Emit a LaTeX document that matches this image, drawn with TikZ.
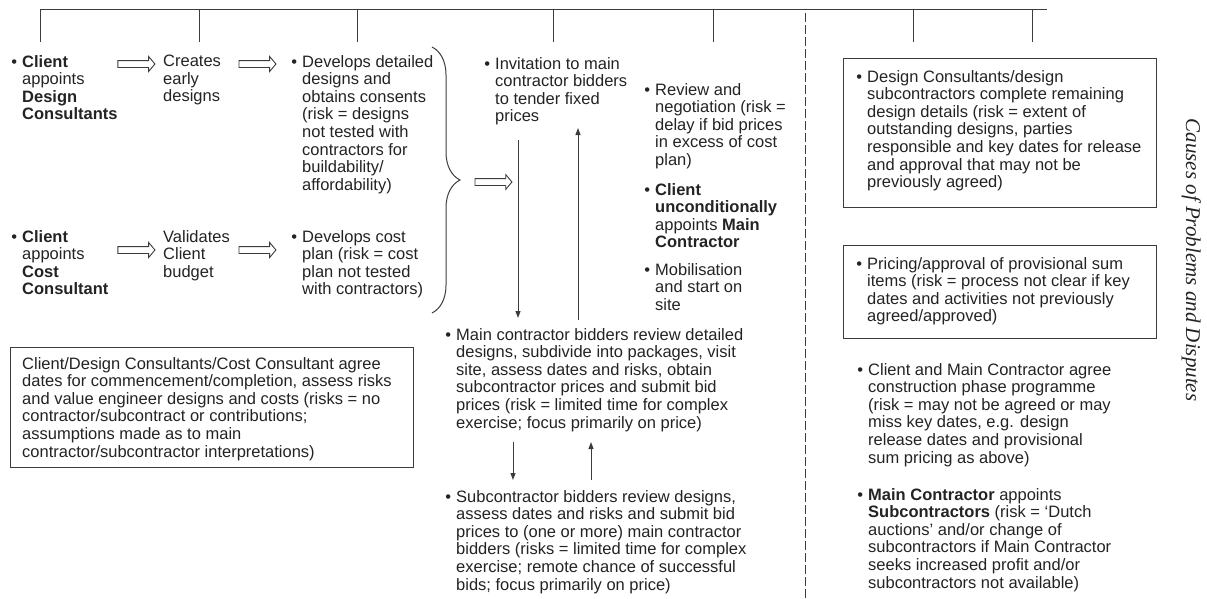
\documentclass[tikz,border=0pt]{standalone}
\usepackage{fontspec}
\setmainfont{Liberation Sans}
\newfontfamily\captionserif{Liberation Serif}
\usetikzlibrary{arrows.meta,shapes.arrows,decorations.pathreplacing,calc}
\definecolor{ink}{RGB}{35,35,35}
\definecolor{linec}{RGB}{60,60,60}
\newcommand\bul{\llap{\textbullet\hspace{5pt}}}
\begin{document}
\begin{tikzpicture}[x=1pt,y=-1pt,
  txt/.style={anchor=north west, inner sep=0pt, align=left, text=ink,
    font=\fontsize{16.5}{17.6}\selectfont},
  ln/.style={draw=linec, line width=1pt},
  dashln/.style={draw=linec, line width=1pt, dash pattern=on 9pt off 3pt},
  arr/.style={draw=linec, line width=1pt, -{Triangle[length=7pt,width=5pt]}},
  hollow/.style={shape=single arrow, draw=linec, line width=0.9pt, fill=white,
    inner sep=0pt, inner ysep=3pt, minimum height=37pt, minimum width=14pt,
    single arrow head extend=4pt, single arrow tip angle=100},
  boxln/.style={draw=linec, line width=1pt}]
\useasboundingbox (0,0) rectangle (1207,598);

% top bracket
\coordinate (tl) at (40,9);
\coordinate (tr) at (1047,9);
\draw[ln] (tl) -- (tr);
\foreach \x [count=\i] in {40,199,357,553,713,913,1032}{
  \coordinate (tk\i a) at (\x,9);
  \coordinate (tk\i b) at (\x,42);
  \draw[ln] (tk\i a) -- (tk\i b);
}
% dashed divider
\coordinate (dv1) at (805,13);
\coordinate (dv2) at (805,598);
\draw[dashln] (dv1) -- (dv2);

% row 1
\node[txt] (A1) at (22,55) {\bul\textbf{Client}\\appoints\\\textbf{Design}\\\textbf{Consultants}};
\node[txt] (A2) at (163,55) {Creates\\early\\designs};
\node[txt] (A3) at (302,55) {\bul Develops detailed\\designs and\\obtains consents\\(risk = designs\\not tested with\\contractors for\\buildability/\\affordability)};
\node[hollow] (h1) at (135,64) {};
\node[hollow] (h2) at (256,64) {};

% row 2
\node[txt] (A4) at (22,230) {\bul\textbf{Client}\\appoints\\\textbf{Cost}\\\textbf{Consultant}};
\node[txt] (A5) at (163,230) {Validates\\Client\\budget};
\node[txt] (A6) at (302,230) {\bul Develops cost\\plan (risk = cost\\plan not tested\\with contractors)};
\node[hollow] (h3) at (135,250) {};
\node[hollow] (h4) at (256,250) {};

% brace
\coordinate (br1) at (432,47);
\coordinate (br2) at (432,313);
\draw[ln, decorate, decoration={brace, amplitude=28pt}] (br1) -- (br2);
\node[hollow] (h5) at (492,182) {};

% left box
\draw[boxln] (10,347) rectangle (413,467);
\node[txt] (L) at (22,357) {Client/Design Consultants/Cost Consultant agree\\dates for commencement/completion, assess risks\\and value engineer designs and costs (risks = no\\contractor/subcontract or contributions;\\assumptions made as to main\\contractor/subcontractor interpretations)};

% middle
\node[txt] (B1) at (495,57) {\bul Invitation to main\\contractor bidders\\to tender fixed\\prices};
\node[txt] (B2) at (655,83) {\bul Review and\\negotiation (risk =\\delay if bid prices\\in excess of cost\\plan)};
\node[txt] (B3) at (655,183) {\bul\textbf{Client}\\\textbf{unconditionally}\\appoints \textbf{Main}\\\textbf{Contractor}};
\node[txt] (B4) at (655,263) {\bul Mobilisation\\and start on\\site};
\node[txt] (B5) at (456,328) {\bul Main contractor bidders review detailed\\designs, subdivide into packages, visit\\site, assess dates and risks, obtain\\subcontractor prices and submit bid\\prices (risk = limited time for complex\\exercise; focus primarily on price)};
\node[txt] (B6) at (456,490) {\bul Subcontractor bidders review designs,\\assess dates and risks and submit bid\\prices to (one or more) main contractor\\bidders (risks = limited time for complex\\exercise; remote chance of successful\\bids; focus primarily on price)};

\coordinate (v1a) at (518,140); \coordinate (v1b) at (518,318);
\coordinate (v2a) at (578,320); \coordinate (v2b) at (578,128);
\coordinate (v3a) at (513,442); \coordinate (v3b) at (513,480);
\coordinate (v4a) at (591,480); \coordinate (v4b) at (591,442);
\draw[arr] (v1a) -- (v1b);
\draw[arr] (v2a) -- (v2b);
\draw[arr] (v3a) -- (v3b);
\draw[arr] (v4a) -- (v4b);

% right side
\draw[boxln] (843,58) rectangle (1156,207);
\node[txt] (C1) at (867,70) {\bul Design Consultants/design\\subcontractors complete remaining\\design details (risk = extent of\\outstanding designs, parties\\responsible and key dates for release\\and approval that may not be\\previously agreed)};
\draw[boxln] (843,245) rectangle (1156,338);
\node[txt] (C2) at (867,257) {\bul Pricing/approval of provisional sum\\items (risk = process not clear if key\\dates and activities not previously\\agreed/approved)};
\node[txt] (C3) at (868,363) {\bul Client and Main Contractor agree\\construction phase programme\\(risk = may not be agreed or may\\miss key dates, e.g. design\\release dates and provisional\\sum pricing as above)};
\node[txt] (C4) at (868,488) {\bul\textbf{Main Contractor} appoints\\\textbf{Subcontractors} (risk = ‘Dutch\\auctions’ and/or change of\\subcontractors if Main Contractor\\seeks increased profit and/or\\subcontractors not available)};

\node[anchor=base, rotate=-90, inner sep=0pt, text=ink,
  font=\captionserif\itshape\fontsize{21}{24}\selectfont] (T) at (1186,260)
  {Causes of Problems and Disputes};
\end{tikzpicture}
\end{document}
